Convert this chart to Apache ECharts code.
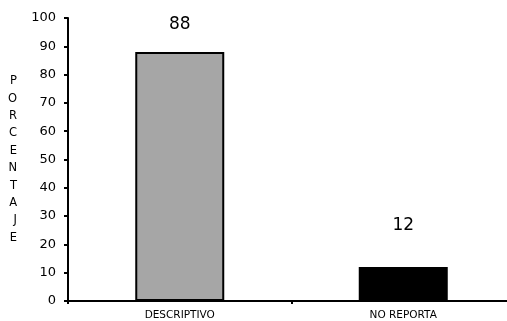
<!DOCTYPE html>
<html><head><meta charset="utf-8">
<script src="https://cdn.jsdelivr.net/npm/echarts@6/dist/echarts.min.js"></script>
<style>html,body{margin:0;padding:0;background:#fff}#c{width:507px;height:321px}</style>
</head><body><div id="c"></div>
<script>
var categories = ['DESCRIPTIVO', 'NO REPORTA'];
var values = [88, 12];
var yTicks = [0, 10, 20, 30, 40, 50, 60, 70, 80, 90, 100];
var axisTitle = 'PORCENTAJE';

var font = 'DejaVu Sans, Verdana, sans-serif';
var chart = echarts.init(document.getElementById('c'));
chart.setOption({
  animation: false,
  grid: {left: 68, right: -8, top: 18, bottom: 20, outerBoundsMode: 'none', containLabel: false},
  xAxis: {
    type: 'category', data: categories,
    axisLine: {lineStyle: {color: '#000', width: 2}},
    axisTick: {show: true, length: 3, lineStyle: {color: '#000', width: 2}},
    axisLabel: {color: '#000', fontFamily: font, fontSize: 10.5, margin: 9}
  },
  yAxis: {
    type: 'value', min: yTicks[0], max: yTicks[yTicks.length - 1], interval: 10,
    name: axisTitle.split('').join('\n'),
    nameLocation: 'middle', nameRotate: 0, nameGap: 51,
    nameTextStyle: {color: '#000', fontFamily: font, fontSize: 11.5, lineHeight: 17.4},
    axisLine: {show: true, lineStyle: {color: '#000', width: 2}},
    axisTick: {show: true, length: 4, lineStyle: {color: '#000', width: 2}},
    splitLine: {show: false},
    axisLabel: {color: '#000', fontFamily: font, fontSize: 13, margin: 12}
  },
  series: [{
    type: 'bar', barWidth: 89,
    data: [
      {value: values[0], itemStyle: {color: '#a6a6a6', borderColor: '#000', borderWidth: 2},
       label: {distance: 19}},
      {value: values[1], itemStyle: {color: '#000', borderColor: '#000', borderWidth: 2},
       label: {distance: 33}}
    ],
    label: {show: true, position: 'top', color: '#000', fontSize: 17, fontFamily: font}
  }]
});
</script></body></html>
